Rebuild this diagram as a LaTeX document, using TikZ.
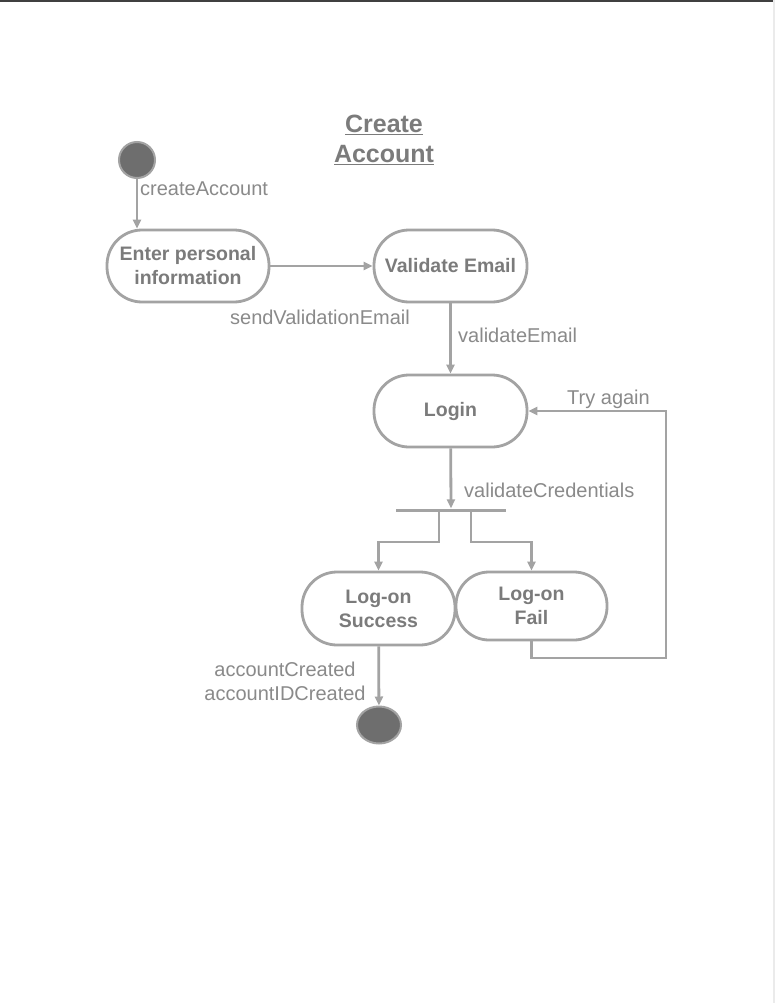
\documentclass[tikz,border=0pt]{standalone}
\usepackage{fontspec}
\setmainfont{Liberation Sans}
\usetikzlibrary{arrows.meta,shapes.geometric}
\definecolor{lineg}{HTML}{A3A3A3}
\definecolor{textg}{HTML}{7B7B7B}
\definecolor{labg}{HTML}{8A8A8A}
\definecolor{dotg}{HTML}{6E6E6E}
\begin{document}
\begin{tikzpicture}[x=1pt,y=-1pt,
  state/.style={draw=lineg, line width=2.8pt, rounded corners=35pt, minimum width=153pt, minimum height=72pt,
    font=\fontsize{19.5}{24}\selectfont\bfseries, text=textg, align=center, inner sep=0pt},
  conn/.style={draw=lineg, line width=2.8pt, -{Triangle[length=9pt,width=8pt]}},
  lab/.style={font=\fontsize{20}{24}\selectfont, text=labg, inner sep=0pt}]
\useasboundingbox (0,0) rectangle (775,1003);
\fill[white] (0,0) rectangle (775,1003);
\fill[black!75] (0,0) rectangle (775,2.5);
\fill[black!8] (772.5,0) rectangle (775,1003);

\node[font=\fontsize{25}{30}\selectfont\bfseries, text=textg, align=center] (title) at (384,140) {\underline{Create}\\\underline{Account}};

\node[circle, fill=dotg, draw=lineg, line width=2pt, minimum size=36pt, inner sep=0pt] (init) at (137,160) {};
\node[state, minimum width=162pt] (enter) at (188,266) {Enter personal\\information};
\node[state] (validate) at (450.5,266) {\raisebox{2pt}{Validate Email}};
\node[state] (login) at (450.5,411) {Login};
\node[fill=lineg, minimum width=110pt, minimum height=3pt, inner sep=0pt] (fork) at (451,510) {};
\node[state, minimum height=73pt] (success) at (378.5,608.5) {Log-on\\Success};
\node[state, minimum width=151pt, minimum height=68pt, rounded corners=33pt] (fail) at (531.5,606) {Log-on\\Fail};
\node[ellipse, fill=dotg, draw=lineg, line width=2pt, minimum width=44pt, minimum height=37pt, inner sep=0pt] (final) at (379,725) {};
\coordinate (loopc) at (666,658);

\draw[conn] (init.south) -- (init.south |- enter.north);
\draw[conn] (enter) -- (validate);
\draw[conn] (validate) -- (login);
\draw[conn] (login) -- (fork.north);
\draw[conn] ([xshift=-12pt]fork.center) -- ++(0,32) -| (success.north);
\draw[conn] ([xshift=20pt]fork.center) -- ++(0,32) -| (fail.north);
\draw[conn] (fail.south) |- (loopc) |- (login.east);
\draw[conn] (success) -- (final);

\node[lab, anchor=west] (l1) at (140,189) {createAccount};
\node[lab] (l2) at (320,317) {sendValidationEmail};
\node[lab, anchor=west] (l3) at (458,335) {validateEmail};
\node[lab, anchor=west] (l4) at (464,490) {validateCredentials};
\node[lab, anchor=west] (l5) at (567,399) {Try again};
\node[lab, align=center] (l6) at (285,681) {accountCreated\\accountIDCreated};
\end{tikzpicture}
\end{document}
